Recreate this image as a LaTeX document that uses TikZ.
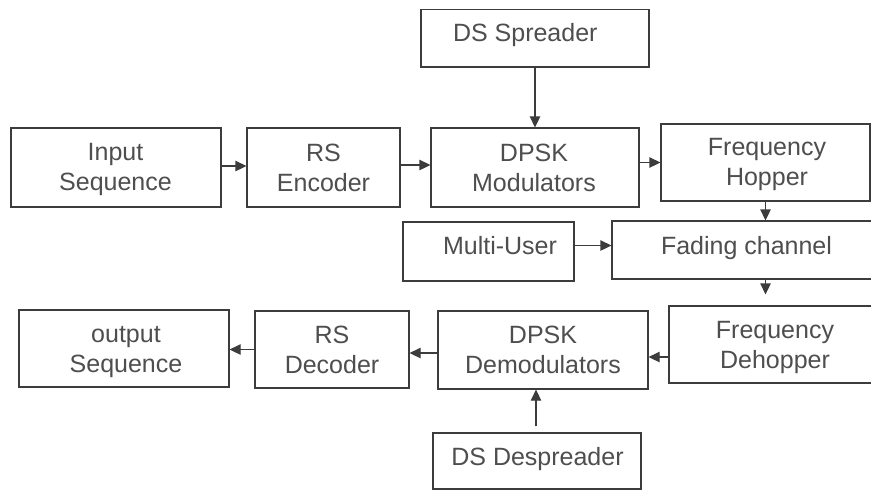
\documentclass[tikz,border=0pt]{standalone}
\usepackage{fontspec}
\setmainfont{Liberation Sans}
\usetikzlibrary{arrows.meta}
\definecolor{linegray}{HTML}{3C3C3C}
\definecolor{textgray}{HTML}{4E4E4E}
\tikzset{
  box/.style={draw=linegray, line width=1.3pt, inner sep=0pt, rectangle},
  txt/.style={font=\fontsize{25}{30}\selectfont, align=center, inner sep=0pt, text=textgray},
  arr/.style={draw=linegray, line width=1.3pt, -{Triangle[length=11pt,width=10.5pt]}}
}
\begin{document}
\begin{tikzpicture}[x=1pt,y=-1pt]
\clip (0,0) rectangle (871,491);
\fill[white] (0,0) rectangle (871,491);
% boxes
\node[box, minimum width=228pt, minimum height=57.5pt] (sp)   at (535,38.25) {};
\node[box, minimum width=210pt, minimum height=79pt]   (in)   at (116,167.5) {};
\node[box, minimum width=153pt, minimum height=79pt]   (enc)  at (323.5,167.5) {};
\node[box, minimum width=208pt, minimum height=79pt]   (mod)  at (535,167.5) {};
\node[box, minimum width=209pt, minimum height=77pt]   (hop)  at (765.5,162.5) {};
\node[box, minimum width=171pt, minimum height=59pt]   (mu)   at (488.5,251.5) {};
\node[box, minimum width=269pt, minimum height=58pt]   (fad)  at (746.5,250) {};
\node[box, minimum width=213pt, minimum height=77pt]   (dh)   at (775.5,344.5) {};
\node[box, minimum width=210pt, minimum height=78pt]   (dem)  at (543,350) {};
\node[box, minimum width=154pt, minimum height=77pt]   (dec)  at (332,349.5) {};
\node[box, minimum width=210pt, minimum height=77pt]   (out)  at (124,348.5) {};
\node[box, minimum width=208pt, minimum height=56pt]   (desp) at (537,461) {};
% texts
\node[txt] (spt)   at (525.3,34.7)  {DS Spreader};
\node[txt] (int)   at (115.5,169.8) {Input\\Sequence};
\node[txt] (enct)  at (323.5,168)   {RS\\Encoder};
\node[txt] (modt)  at (534,168.3)   {DPSK\\Modulators};
\node[txt] (hopt)  at (767,164.3)   {Frequency\\Hopper};
\node[txt] (mut)   at (500,245.5)   {Multi-User};
\node[txt] (fadt)  at (746.5,247.7) {Fading channel};
\node[txt] (dht)   at (775,347)     {Frequency\\Dehopper};
\node[txt] (demt)  at (543,350.3)   {DPSK\\Demodulators};
\node[txt] (dect)  at (332,350)     {RS\\Decoder};
\node[txt] (outt)  at (126,351.8)   {output\\Sequence};
\node[txt] (despt) at (537.5,459.3) {DS Despreader};
% connectors
\draw[arr] (sp) -- (mod);
\draw[arr] ([yshift=1.5pt]in.east) -- ([yshift=1.5pt]enc.west);
\draw[arr] ([yshift=2.5pt]enc.east) -- ([yshift=2.5pt]enc.east -| mod.west);
\draw[arr] (mod.east |- hop.west) -- (hop.west);
\draw[arr] (hop.south) -- (hop.south |- fad.north);
\draw[arr, shorten >=11pt] (fad.south -| hop.south) -- (dh.north -| hop.south);
\draw[arr] (mu.east |- mut) -- (fad.west |- mut);
\draw[arr] ([yshift=-12.5pt]dh.west) -- ([yshift=-12.5pt]dh.west -| dem.east);
\draw[arr] ([yshift=-3pt]dem.west) -- ([yshift=-3pt]dem.west -| dec.east);
\draw[arr] (dec.west) -- (dec.west -| out.east);
\draw[arr, shorten <=6pt] ([xshift=-1pt]desp.north) -- ([xshift=-1pt]desp.north |- dem.south);
\end{tikzpicture}
\end{document}
